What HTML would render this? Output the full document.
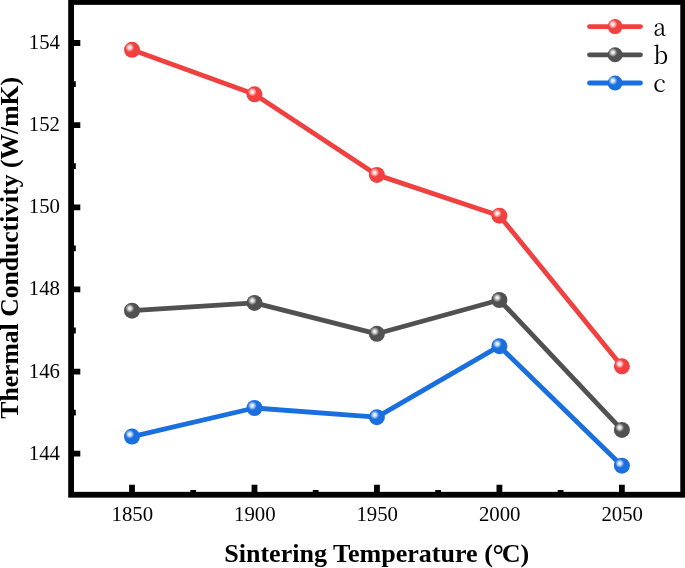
<!DOCTYPE html>
<html lang="en"><head><meta charset="utf-8"><title>Thermal Conductivity vs Sintering Temperature</title>
<style>html,body{margin:0;padding:0;background:#fff}body{width:685px;height:568px;overflow:hidden}svg{display:block}text{font-family:"Liberation Serif","Noto Serif CJK SC",serif;fill:#000}.tk{font-size:20.8px}.ti{font-size:26.05px;font-weight:bold}.ty{font-size:25.63px;font-weight:bold}.lg{font-size:23.5px;font-family:"Noto Serif CJK SC","Liberation Serif",serif}</style></head><body>
<svg width="685" height="568" viewBox="0 0 685 568">
<defs>
<radialGradient id="hl"><stop offset="0" stop-color="#fff" stop-opacity="0.95"/><stop offset="0.3" stop-color="#fff" stop-opacity="0.85"/><stop offset="1" stop-color="#fff" stop-opacity="0"/></radialGradient>
</defs>
<rect width="685" height="568" fill="#fff"/>
<polyline points="132.0,49.8 254.5,94.3 376.9,174.9 499.4,215.7 621.9,366.3" fill="none" stroke="#F14040" stroke-width="4.8" stroke-linejoin="round" stroke-linecap="round"/>
<polyline points="132.0,310.7 254.5,302.9 376.9,333.8 499.4,300.0 621.9,429.9" fill="none" stroke="#515151" stroke-width="4.8" stroke-linejoin="round" stroke-linecap="round"/>
<polyline points="132.0,436.6 254.5,408.0 376.9,417.2 499.4,346.2 621.9,465.7" fill="none" stroke="#1A6FDF" stroke-width="4.8" stroke-linejoin="round" stroke-linecap="round"/>
<circle cx="132.0" cy="49.8" r="8.0" fill="#F14040"/><circle cx="129.8" cy="47.5" r="4.5" fill="url(#hl)"/>
<circle cx="254.5" cy="94.3" r="8.0" fill="#F14040"/><circle cx="252.3" cy="92.0" r="4.5" fill="url(#hl)"/>
<circle cx="376.9" cy="174.9" r="8.0" fill="#F14040"/><circle cx="374.7" cy="172.6" r="4.5" fill="url(#hl)"/>
<circle cx="499.4" cy="215.7" r="8.0" fill="#F14040"/><circle cx="497.2" cy="213.4" r="4.5" fill="url(#hl)"/>
<circle cx="621.9" cy="366.3" r="8.0" fill="#F14040"/><circle cx="619.7" cy="364.0" r="4.5" fill="url(#hl)"/>
<circle cx="132.0" cy="310.7" r="8.0" fill="#515151"/><circle cx="129.8" cy="308.4" r="4.5" fill="url(#hl)"/>
<circle cx="254.5" cy="302.9" r="8.0" fill="#515151"/><circle cx="252.3" cy="300.6" r="4.5" fill="url(#hl)"/>
<circle cx="376.9" cy="333.8" r="8.0" fill="#515151"/><circle cx="374.7" cy="331.5" r="4.5" fill="url(#hl)"/>
<circle cx="499.4" cy="300.0" r="8.0" fill="#515151"/><circle cx="497.2" cy="297.7" r="4.5" fill="url(#hl)"/>
<circle cx="621.9" cy="429.9" r="8.0" fill="#515151"/><circle cx="619.7" cy="427.6" r="4.5" fill="url(#hl)"/>
<circle cx="132.0" cy="436.6" r="8.0" fill="#1A6FDF"/><circle cx="129.8" cy="434.3" r="4.5" fill="url(#hl)"/>
<circle cx="254.5" cy="408.0" r="8.0" fill="#1A6FDF"/><circle cx="252.3" cy="405.7" r="4.5" fill="url(#hl)"/>
<circle cx="376.9" cy="417.2" r="8.0" fill="#1A6FDF"/><circle cx="374.7" cy="414.9" r="4.5" fill="url(#hl)"/>
<circle cx="499.4" cy="346.2" r="8.0" fill="#1A6FDF"/><circle cx="497.2" cy="343.9" r="4.5" fill="url(#hl)"/>
<circle cx="621.9" cy="465.7" r="8.0" fill="#1A6FDF"/><circle cx="619.7" cy="463.4" r="4.5" fill="url(#hl)"/>
<rect x="71.10" y="1.95" width="612.10" height="492.80" fill="none" stroke="#000" stroke-width="5.8"/>
<path d="M71.10 453.68h9.20M71.10 371.55h9.20M71.10 289.42h9.20M71.10 207.28h9.20M71.10 125.15h9.20M71.10 43.02h9.20M71.10 412.62h4.70M71.10 330.48h4.70M71.10 248.35h4.70M71.10 166.22h4.70M71.10 84.08h4.70M132.00 494.75v-9.90M254.47 494.75v-9.90M376.94 494.75v-9.90M499.41 494.75v-9.90M621.88 494.75v-9.90M193.20 494.75v-4.80M315.67 494.75v-4.80M438.14 494.75v-4.80M560.61 494.75v-4.80" fill="none" stroke="#000" stroke-width="5.8"/>
<text class="tk" x="60.0" y="459.7" text-anchor="end">144</text>
<text class="tk" x="60.0" y="377.6" text-anchor="end">146</text>
<text class="tk" x="60.0" y="295.4" text-anchor="end">148</text>
<text class="tk" x="60.0" y="213.3" text-anchor="end">150</text>
<text class="tk" x="60.0" y="131.2" text-anchor="end">152</text>
<text class="tk" x="60.0" y="49.0" text-anchor="end">154</text>
<text class="tk" x="132.3" y="520.8" text-anchor="middle">1850</text>
<text class="tk" x="254.8" y="520.8" text-anchor="middle">1900</text>
<text class="tk" x="377.2" y="520.8" text-anchor="middle">1950</text>
<text class="tk" x="499.7" y="520.8" text-anchor="middle">2000</text>
<text class="tk" x="622.2" y="520.8" text-anchor="middle">2050</text>
<text class="ti" x="224.2" y="561.8">Sintering Temperature (<tspan font-size="28.5" dx="-0.4" dy="2.85">°</tspan><tspan dx="-2.2" dy="-2.85">C)</tspan></text>
<text class="ty" transform="translate(18.3,247.8) rotate(-90)" text-anchor="middle">Thermal Conductivity (W/mK)</text>
<line x1="589.5" y1="26.6" x2="640.5" y2="26.6" stroke="#F14040" stroke-width="4.8" stroke-linecap="round"/>
<circle cx="615.1" cy="26.6" r="7.5" fill="#F14040"/><circle cx="612.9" cy="24.3" r="4.5" fill="url(#hl)"/>
<text class="lg" x="653.3" y="36.0">a</text>
<line x1="589.5" y1="54.8" x2="640.5" y2="54.8" stroke="#515151" stroke-width="4.8" stroke-linecap="round"/>
<circle cx="615.1" cy="54.8" r="7.5" fill="#515151"/><circle cx="612.9" cy="52.5" r="4.5" fill="url(#hl)"/>
<text class="lg" x="653.3" y="64.2">b</text>
<line x1="589.5" y1="83.0" x2="640.5" y2="83.0" stroke="#1A6FDF" stroke-width="4.8" stroke-linecap="round"/>
<circle cx="615.1" cy="83.0" r="7.5" fill="#1A6FDF"/><circle cx="612.9" cy="80.7" r="4.5" fill="url(#hl)"/>
<text class="lg" x="653.3" y="92.4">c</text>
</svg></body></html>
